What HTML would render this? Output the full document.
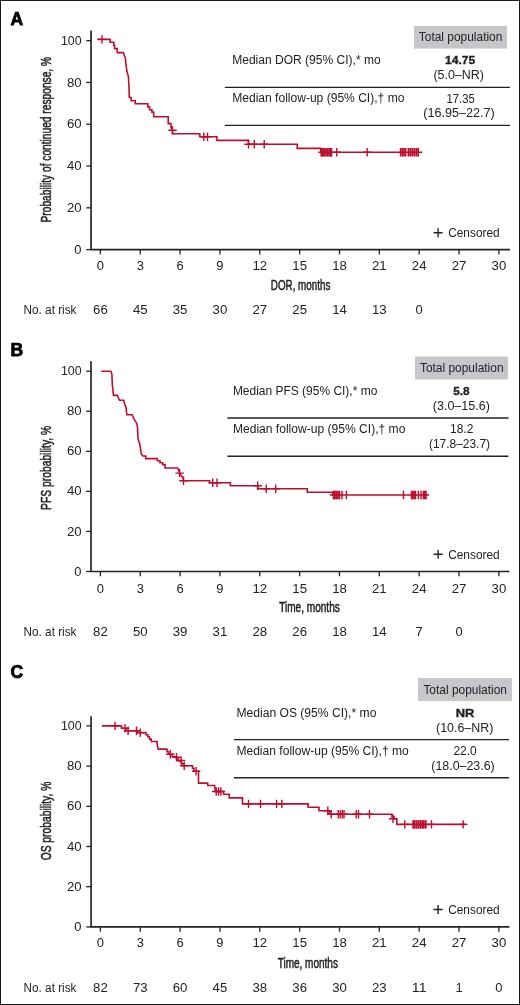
<!DOCTYPE html><html><head><meta charset="utf-8"><style>html,body{margin:0;padding:0;background:#fff}svg{display:block;will-change:transform}text{font-family:"Liberation Sans",sans-serif}</style></head><body>
<svg width="520" height="1005" viewBox="0 0 520 1005">
<rect x="0" y="0" width="520" height="1005" fill="#fff"/>
<path d="M91.05 30.5V249.6H510" stroke="#222222" stroke-width="1.65" fill="none"/>
<path d="M86.25 249.6H91.05" stroke="#222222" stroke-width="1.3"/>
<text x="81.6" y="253.7" font-size="12" text-anchor="end" textLength="7.21" lengthAdjust="spacingAndGlyphs" fill="#222222" >0</text>
<path d="M86.25 207.82H91.05" stroke="#222222" stroke-width="1.3"/>
<text x="81.6" y="211.92" font-size="12" text-anchor="end" textLength="14.68" lengthAdjust="spacingAndGlyphs" fill="#222222" >20</text>
<path d="M86.25 166.04H91.05" stroke="#222222" stroke-width="1.3"/>
<text x="81.6" y="170.14" font-size="12" text-anchor="end" textLength="14.68" lengthAdjust="spacingAndGlyphs" fill="#222222" >40</text>
<path d="M86.25 124.26H91.05" stroke="#222222" stroke-width="1.3"/>
<text x="81.6" y="128.36" font-size="12" text-anchor="end" textLength="14.68" lengthAdjust="spacingAndGlyphs" fill="#222222" >60</text>
<path d="M86.25 82.48H91.05" stroke="#222222" stroke-width="1.3"/>
<text x="81.6" y="86.58" font-size="12" text-anchor="end" textLength="14.68" lengthAdjust="spacingAndGlyphs" fill="#222222" >80</text>
<path d="M86.25 40.7H91.05" stroke="#222222" stroke-width="1.3"/>
<text x="81.6" y="44.8" font-size="12" text-anchor="end" textLength="20.62" lengthAdjust="spacingAndGlyphs" fill="#222222" >100</text>
<path d="M100.4 249.6V254.4" stroke="#222222" stroke-width="1.3"/>
<text x="100.4" y="269.7" font-size="12" text-anchor="middle" textLength="7.21" lengthAdjust="spacingAndGlyphs" fill="#222222" >0</text>
<path d="M140.25 249.6V254.4" stroke="#222222" stroke-width="1.3"/>
<text x="140.25" y="269.7" font-size="12" text-anchor="middle" textLength="7.21" lengthAdjust="spacingAndGlyphs" fill="#222222" >3</text>
<path d="M180.1 249.6V254.4" stroke="#222222" stroke-width="1.3"/>
<text x="180.1" y="269.7" font-size="12" text-anchor="middle" textLength="7.21" lengthAdjust="spacingAndGlyphs" fill="#222222" >6</text>
<path d="M219.95 249.6V254.4" stroke="#222222" stroke-width="1.3"/>
<text x="219.95" y="269.7" font-size="12" text-anchor="middle" textLength="7.21" lengthAdjust="spacingAndGlyphs" fill="#222222" >9</text>
<path d="M259.8 249.6V254.4" stroke="#222222" stroke-width="1.3"/>
<text x="259.8" y="269.7" font-size="12" text-anchor="middle" textLength="14.68" lengthAdjust="spacingAndGlyphs" fill="#222222" >12</text>
<path d="M299.64 249.6V254.4" stroke="#222222" stroke-width="1.3"/>
<text x="299.64" y="269.7" font-size="12" text-anchor="middle" textLength="14.68" lengthAdjust="spacingAndGlyphs" fill="#222222" >15</text>
<path d="M339.49 249.6V254.4" stroke="#222222" stroke-width="1.3"/>
<text x="339.49" y="269.7" font-size="12" text-anchor="middle" textLength="14.68" lengthAdjust="spacingAndGlyphs" fill="#222222" >18</text>
<path d="M379.34 249.6V254.4" stroke="#222222" stroke-width="1.3"/>
<text x="379.34" y="269.7" font-size="12" text-anchor="middle" textLength="14.68" lengthAdjust="spacingAndGlyphs" fill="#222222" >21</text>
<path d="M419.19 249.6V254.4" stroke="#222222" stroke-width="1.3"/>
<text x="419.19" y="269.7" font-size="12" text-anchor="middle" textLength="14.68" lengthAdjust="spacingAndGlyphs" fill="#222222" >24</text>
<path d="M459.04 249.6V254.4" stroke="#222222" stroke-width="1.3"/>
<text x="459.04" y="269.7" font-size="12" text-anchor="middle" textLength="14.68" lengthAdjust="spacingAndGlyphs" fill="#222222" >27</text>
<path d="M498.89 249.6V254.4" stroke="#222222" stroke-width="1.3"/>
<text x="498.89" y="269.7" font-size="12" text-anchor="middle" textLength="14.68" lengthAdjust="spacingAndGlyphs" fill="#222222" >30</text>
<text x="23.6" y="314.4" font-size="12" text-anchor="start" textLength="52.8" lengthAdjust="spacingAndGlyphs" fill="#222222" >No. at risk</text>
<text x="100.4" y="314.4" font-size="12" text-anchor="middle" textLength="14.68" lengthAdjust="spacingAndGlyphs" fill="#222222" >66</text>
<text x="140.25" y="314.4" font-size="12" text-anchor="middle" textLength="14.68" lengthAdjust="spacingAndGlyphs" fill="#222222" >45</text>
<text x="180.1" y="314.4" font-size="12" text-anchor="middle" textLength="14.68" lengthAdjust="spacingAndGlyphs" fill="#222222" >35</text>
<text x="219.95" y="314.4" font-size="12" text-anchor="middle" textLength="14.68" lengthAdjust="spacingAndGlyphs" fill="#222222" >30</text>
<text x="259.8" y="314.4" font-size="12" text-anchor="middle" textLength="14.68" lengthAdjust="spacingAndGlyphs" fill="#222222" >27</text>
<text x="299.64" y="314.4" font-size="12" text-anchor="middle" textLength="14.68" lengthAdjust="spacingAndGlyphs" fill="#222222" >25</text>
<text x="339.49" y="314.4" font-size="12" text-anchor="middle" textLength="14.68" lengthAdjust="spacingAndGlyphs" fill="#222222" >14</text>
<text x="379.34" y="314.4" font-size="12" text-anchor="middle" textLength="14.68" lengthAdjust="spacingAndGlyphs" fill="#222222" >13</text>
<text x="419.19" y="314.4" font-size="12" text-anchor="middle" textLength="7.21" lengthAdjust="spacingAndGlyphs" fill="#222222" >0</text>
<text x="270.8" y="289.8" font-size="14.2" textLength="59.5" lengthAdjust="spacingAndGlyphs" fill="#222222" stroke="#222222" stroke-width="0.5">DOR, months</text>
<text transform="translate(50.9 139.7) rotate(-90)" x="0" y="0" font-size="14.6" text-anchor="middle" textLength="165.5" lengthAdjust="spacingAndGlyphs" fill="#222222" stroke="#222222" stroke-width="0.5">Probability of continued response, %</text>
<text x="10.5" y="25.4" font-size="17.6" text-anchor="start" font-weight="bold" fill="#000" stroke="#000" stroke-width="0.75">A</text>
<path d="M438.1 228.3V237.3M433.6 232.8H442.6" stroke="#222222" stroke-width="1.4"/>
<text x="448.2" y="237.2" font-size="12" text-anchor="start" textLength="51.5" lengthAdjust="spacingAndGlyphs" fill="#222222" >Censored</text>
<rect x="414" y="26" width="93" height="22.6" fill="#c7c7cb"/>
<text x="460.6" y="41.1" font-size="12" text-anchor="middle" textLength="83.6" lengthAdjust="spacingAndGlyphs" fill="#222222" >Total population</text>
<text x="232.2" y="64.1" font-size="12" text-anchor="start" textLength="148.5" lengthAdjust="spacingAndGlyphs" fill="#222222" >Median DOR (95% CI),* mo</text>
<text x="232.2" y="102.3" font-size="12" text-anchor="start" textLength="172.2" lengthAdjust="spacingAndGlyphs" fill="#222222" >Median follow-up (95% CI),† mo</text>
<text x="460.2" y="64.1" font-size="11.3" text-anchor="middle" font-weight="bold" textLength="30.2" lengthAdjust="spacingAndGlyphs" fill="#222222" stroke="#222222" stroke-width="0.35">14.75</text>
<text x="458.7" y="79.1" font-size="12" text-anchor="middle" textLength="50.6" lengthAdjust="spacingAndGlyphs" fill="#222222" >(5.0–NR)</text>
<text x="460.6" y="102.6" font-size="12" text-anchor="middle" textLength="28.3" lengthAdjust="spacingAndGlyphs" fill="#222222" >17.35</text>
<text x="459.0" y="117.1" font-size="12" text-anchor="middle" textLength="71.5" lengthAdjust="spacingAndGlyphs" fill="#222222" >(16.95–22.7)</text>
<path d="M224.8 87.4H510M224.8 125.4H510" stroke="#222222" stroke-width="1.4"/>
<path d="M97.3 39.4H110.1V42.2H113.8V45.5H114.6V48.6H117.2V52.6H123.4L124 55.1L125.4 58.1L126 64.7L126.9 71.3L128.4 76.6L129 86.8L129.3 97.5H131.2V100.7H135.2V103.7H147.9V106.9H149.6V109.8H151.9V112.1H153.7V116.8H168.2V123.6H171V127.1L172.5 130.3V133.8H199.8V136.8H216.9V140.4H248.5V144.2H297.2V148.4H320.8V152.2H422.3" stroke="#ba0f2e" stroke-width="1.6" fill="none" stroke-linejoin="miter"/>
<path d="M102 35.199999999999996V43.6M97.8 39.4H106.2" stroke="#ba0f2e" stroke-width="1.4" fill="none"/>
<path d="M172.5 126.10000000000001V134.5M168.3 130.3H176.7" stroke="#ba0f2e" stroke-width="1.4" fill="none"/>
<path d="M203.8 132.60000000000002V141.0M199.60000000000002 136.8H208.0" stroke="#ba0f2e" stroke-width="1.4" fill="none"/>
<path d="M207.5 132.60000000000002V141.0M203.3 136.8H211.7" stroke="#ba0f2e" stroke-width="1.4" fill="none"/>
<path d="M248.5 140.0V148.39999999999998M244.3 144.2H252.7" stroke="#ba0f2e" stroke-width="1.4" fill="none"/>
<path d="M254.3 140.0V148.39999999999998M250.10000000000002 144.2H258.5" stroke="#ba0f2e" stroke-width="1.4" fill="none"/>
<path d="M264.2 140.0V148.39999999999998M260.0 144.2H268.4" stroke="#ba0f2e" stroke-width="1.4" fill="none"/>
<path d="M322.5 148.0V156.39999999999998M318.3 152.2H326.7" stroke="#ba0f2e" stroke-width="1.4" fill="none"/>
<path d="M336.7 148.0V156.39999999999998M332.5 152.2H340.9" stroke="#ba0f2e" stroke-width="1.4" fill="none"/>
<path d="M367.2 148.0V156.39999999999998M363.0 152.2H371.4" stroke="#ba0f2e" stroke-width="1.4" fill="none"/>
<rect x="320.8" y="148.0" width="11.2" height="8.4" fill="#c8102e" fill-opacity="0.55"/>
<rect x="400.0" y="148.0" width="6.2" height="8.4" fill="#c8102e" fill-opacity="0.55"/>
<rect x="407.8" y="148.0" width="11.0" height="8.4" fill="#c8102e" fill-opacity="0.55"/>
<path d="M321.2 148.0V156.39999999999998" stroke="#ba0f2e" stroke-width="1.45" fill="none"/>
<path d="M322.8 148.0V156.39999999999998" stroke="#ba0f2e" stroke-width="1.45" fill="none"/>
<path d="M324.4 148.0V156.39999999999998" stroke="#ba0f2e" stroke-width="1.45" fill="none"/>
<path d="M326 148.0V156.39999999999998" stroke="#ba0f2e" stroke-width="1.45" fill="none"/>
<path d="M327.6 148.0V156.39999999999998" stroke="#ba0f2e" stroke-width="1.45" fill="none"/>
<path d="M329.2 148.0V156.39999999999998" stroke="#ba0f2e" stroke-width="1.45" fill="none"/>
<path d="M330.8 148.0V156.39999999999998" stroke="#ba0f2e" stroke-width="1.45" fill="none"/>
<path d="M331.6 148.0V156.39999999999998" stroke="#ba0f2e" stroke-width="1.45" fill="none"/>
<path d="M400.5 148.0V156.39999999999998" stroke="#ba0f2e" stroke-width="1.45" fill="none"/>
<path d="M402.3 148.0V156.39999999999998" stroke="#ba0f2e" stroke-width="1.45" fill="none"/>
<path d="M404.1 148.0V156.39999999999998" stroke="#ba0f2e" stroke-width="1.45" fill="none"/>
<path d="M405.6 148.0V156.39999999999998" stroke="#ba0f2e" stroke-width="1.45" fill="none"/>
<path d="M408.3 148.0V156.39999999999998" stroke="#ba0f2e" stroke-width="1.45" fill="none"/>
<path d="M410.3 148.0V156.39999999999998" stroke="#ba0f2e" stroke-width="1.45" fill="none"/>
<path d="M412.3 148.0V156.39999999999998" stroke="#ba0f2e" stroke-width="1.45" fill="none"/>
<path d="M414.4 148.0V156.39999999999998" stroke="#ba0f2e" stroke-width="1.45" fill="none"/>
<path d="M416.5 148.0V156.39999999999998" stroke="#ba0f2e" stroke-width="1.45" fill="none"/>
<path d="M418.2 148.0V156.39999999999998" stroke="#ba0f2e" stroke-width="1.45" fill="none"/>
<path d="M91.0 361.3V571.5H509.4" stroke="#222222" stroke-width="1.65" fill="none"/>
<path d="M86.2 571.5H91.0" stroke="#222222" stroke-width="1.3"/>
<text x="81.6" y="575.6" font-size="12" text-anchor="end" textLength="7.21" lengthAdjust="spacingAndGlyphs" fill="#222222" >0</text>
<path d="M86.2 531.44H91.0" stroke="#222222" stroke-width="1.3"/>
<text x="81.6" y="535.54" font-size="12" text-anchor="end" textLength="14.68" lengthAdjust="spacingAndGlyphs" fill="#222222" >20</text>
<path d="M86.2 491.38H91.0" stroke="#222222" stroke-width="1.3"/>
<text x="81.6" y="495.48" font-size="12" text-anchor="end" textLength="14.68" lengthAdjust="spacingAndGlyphs" fill="#222222" >40</text>
<path d="M86.2 451.32H91.0" stroke="#222222" stroke-width="1.3"/>
<text x="81.6" y="455.42" font-size="12" text-anchor="end" textLength="14.68" lengthAdjust="spacingAndGlyphs" fill="#222222" >60</text>
<path d="M86.2 411.26H91.0" stroke="#222222" stroke-width="1.3"/>
<text x="81.6" y="415.36" font-size="12" text-anchor="end" textLength="14.68" lengthAdjust="spacingAndGlyphs" fill="#222222" >80</text>
<path d="M86.2 371.2H91.0" stroke="#222222" stroke-width="1.3"/>
<text x="81.6" y="375.3" font-size="12" text-anchor="end" textLength="20.62" lengthAdjust="spacingAndGlyphs" fill="#222222" >100</text>
<path d="M100.4 571.5V576.3" stroke="#222222" stroke-width="1.3"/>
<text x="100.4" y="592.6" font-size="12" text-anchor="middle" textLength="7.21" lengthAdjust="spacingAndGlyphs" fill="#222222" >0</text>
<path d="M140.25 571.5V576.3" stroke="#222222" stroke-width="1.3"/>
<text x="140.25" y="592.6" font-size="12" text-anchor="middle" textLength="7.21" lengthAdjust="spacingAndGlyphs" fill="#222222" >3</text>
<path d="M180.1 571.5V576.3" stroke="#222222" stroke-width="1.3"/>
<text x="180.1" y="592.6" font-size="12" text-anchor="middle" textLength="7.21" lengthAdjust="spacingAndGlyphs" fill="#222222" >6</text>
<path d="M219.95 571.5V576.3" stroke="#222222" stroke-width="1.3"/>
<text x="219.95" y="592.6" font-size="12" text-anchor="middle" textLength="7.21" lengthAdjust="spacingAndGlyphs" fill="#222222" >9</text>
<path d="M259.8 571.5V576.3" stroke="#222222" stroke-width="1.3"/>
<text x="259.8" y="592.6" font-size="12" text-anchor="middle" textLength="14.68" lengthAdjust="spacingAndGlyphs" fill="#222222" >12</text>
<path d="M299.64 571.5V576.3" stroke="#222222" stroke-width="1.3"/>
<text x="299.64" y="592.6" font-size="12" text-anchor="middle" textLength="14.68" lengthAdjust="spacingAndGlyphs" fill="#222222" >15</text>
<path d="M339.49 571.5V576.3" stroke="#222222" stroke-width="1.3"/>
<text x="339.49" y="592.6" font-size="12" text-anchor="middle" textLength="14.68" lengthAdjust="spacingAndGlyphs" fill="#222222" >18</text>
<path d="M379.34 571.5V576.3" stroke="#222222" stroke-width="1.3"/>
<text x="379.34" y="592.6" font-size="12" text-anchor="middle" textLength="14.68" lengthAdjust="spacingAndGlyphs" fill="#222222" >21</text>
<path d="M419.19 571.5V576.3" stroke="#222222" stroke-width="1.3"/>
<text x="419.19" y="592.6" font-size="12" text-anchor="middle" textLength="14.68" lengthAdjust="spacingAndGlyphs" fill="#222222" >24</text>
<path d="M459.04 571.5V576.3" stroke="#222222" stroke-width="1.3"/>
<text x="459.04" y="592.6" font-size="12" text-anchor="middle" textLength="14.68" lengthAdjust="spacingAndGlyphs" fill="#222222" >27</text>
<path d="M498.89 571.5V576.3" stroke="#222222" stroke-width="1.3"/>
<text x="498.89" y="592.6" font-size="12" text-anchor="middle" textLength="14.68" lengthAdjust="spacingAndGlyphs" fill="#222222" >30</text>
<text x="23.6" y="636.3" font-size="12" text-anchor="start" textLength="52.8" lengthAdjust="spacingAndGlyphs" fill="#222222" >No. at risk</text>
<text x="100.4" y="636.3" font-size="12" text-anchor="middle" textLength="14.68" lengthAdjust="spacingAndGlyphs" fill="#222222" >82</text>
<text x="140.25" y="636.3" font-size="12" text-anchor="middle" textLength="14.68" lengthAdjust="spacingAndGlyphs" fill="#222222" >50</text>
<text x="180.1" y="636.3" font-size="12" text-anchor="middle" textLength="14.68" lengthAdjust="spacingAndGlyphs" fill="#222222" >39</text>
<text x="219.95" y="636.3" font-size="12" text-anchor="middle" textLength="14.68" lengthAdjust="spacingAndGlyphs" fill="#222222" >31</text>
<text x="259.8" y="636.3" font-size="12" text-anchor="middle" textLength="14.68" lengthAdjust="spacingAndGlyphs" fill="#222222" >28</text>
<text x="299.64" y="636.3" font-size="12" text-anchor="middle" textLength="14.68" lengthAdjust="spacingAndGlyphs" fill="#222222" >26</text>
<text x="339.49" y="636.3" font-size="12" text-anchor="middle" textLength="14.68" lengthAdjust="spacingAndGlyphs" fill="#222222" >18</text>
<text x="379.34" y="636.3" font-size="12" text-anchor="middle" textLength="14.68" lengthAdjust="spacingAndGlyphs" fill="#222222" >14</text>
<text x="419.19" y="636.3" font-size="12" text-anchor="middle" textLength="7.21" lengthAdjust="spacingAndGlyphs" fill="#222222" >7</text>
<text x="459.04" y="636.3" font-size="12" text-anchor="middle" textLength="7.21" lengthAdjust="spacingAndGlyphs" fill="#222222" >0</text>
<text x="279.2" y="611.8" font-size="14.2" textLength="60.6" lengthAdjust="spacingAndGlyphs" fill="#222222" stroke="#222222" stroke-width="0.5">Time, months</text>
<text transform="translate(50.9 467.9) rotate(-90)" x="0" y="0" font-size="14.6" text-anchor="middle" textLength="84.2" lengthAdjust="spacingAndGlyphs" fill="#222222" stroke="#222222" stroke-width="0.5">PFS probability, %</text>
<text x="10.5" y="356.3" font-size="17.6" text-anchor="start" font-weight="bold" fill="#000" stroke="#000" stroke-width="0.75">B</text>
<path d="M438.1 549.8V558.8M433.6 554.3H442.6" stroke="#222222" stroke-width="1.4"/>
<text x="448.2" y="558.7" font-size="12" text-anchor="start" textLength="51.5" lengthAdjust="spacingAndGlyphs" fill="#222222" >Censored</text>
<rect x="415" y="356.5" width="93" height="23" fill="#c7c7cb"/>
<text x="461.75" y="372.4" font-size="12" text-anchor="middle" textLength="83.6" lengthAdjust="spacingAndGlyphs" fill="#222222" >Total population</text>
<text x="232.9" y="394.8" font-size="12" text-anchor="start" textLength="144.4" lengthAdjust="spacingAndGlyphs" fill="#222222" >Median PFS (95% CI),* mo</text>
<text x="232.9" y="433.0" font-size="12" text-anchor="start" textLength="172.5" lengthAdjust="spacingAndGlyphs" fill="#222222" >Median follow-up (95% CI),† mo</text>
<text x="461.4" y="394.6" font-size="11.3" text-anchor="middle" font-weight="bold" textLength="16.4" lengthAdjust="spacingAndGlyphs" fill="#222222" stroke="#222222" stroke-width="0.35">5.8</text>
<text x="461.3" y="409.9" font-size="12" text-anchor="middle" textLength="57.0" lengthAdjust="spacingAndGlyphs" fill="#222222" >(3.0–15.6)</text>
<text x="461.7" y="433.1" font-size="12" text-anchor="middle" fill="#222222" >18.2</text>
<text x="459.5" y="448.0" font-size="12" text-anchor="middle" textLength="61.0" lengthAdjust="spacingAndGlyphs" fill="#222222" >(17.8–23.7)</text>
<path d="M227.4 418.0H508.5M227.4 456.3H508.5" stroke="#222222" stroke-width="1.4"/>
<path d="M101.2 371.3H110.8L111.9 374.2L112.3 384.2L113.5 395.4H117.3L118.1 397.3L119.6 400.2H123.8L124.6 404.2L126 407L126.5 411.9L126.9 414.8H132.2L134.1 419.4L136.5 422.8L137.5 427.1L138 438.7L139.9 444.4L141.3 454L142.8 456H145.7V458.6H157.3V460.8H160V462.7H162.7V464.6H165V468H177.7L178.8 470.4L179.6 473.1L181.2 475.4L183.1 477.7L183.5 480.7H209.6V482.8H230.4V485.8H257.7V488.8H307.3V492.2H332.8V495H429.2" stroke="#ba0f2e" stroke-width="1.6" fill="none" stroke-linejoin="miter"/>
<path d="M179.6 468.90000000000003V477.3M175.4 473.1H183.79999999999998" stroke="#ba0f2e" stroke-width="1.4" fill="none"/>
<path d="M183.5 476.5V484.9M179.3 480.7H187.7" stroke="#ba0f2e" stroke-width="1.4" fill="none"/>
<path d="M212.7 478.6V487.0M208.5 482.8H216.89999999999998" stroke="#ba0f2e" stroke-width="1.4" fill="none"/>
<path d="M217 478.6V487.0M212.8 482.8H221.2" stroke="#ba0f2e" stroke-width="1.4" fill="none"/>
<path d="M257.7 481.6V490.0M253.5 485.8H261.9" stroke="#ba0f2e" stroke-width="1.4" fill="none"/>
<path d="M266.2 484.6V493.0M262.0 488.8H270.4" stroke="#ba0f2e" stroke-width="1.4" fill="none"/>
<path d="M275.7 484.6V493.0M271.5 488.8H279.9" stroke="#ba0f2e" stroke-width="1.4" fill="none"/>
<path d="M334 490.8V499.2M329.8 495H338.2" stroke="#ba0f2e" stroke-width="1.4" fill="none"/>
<rect x="332.8" y="490.8" width="7.5" height="8.4" fill="#c8102e" fill-opacity="0.55"/>
<rect x="411.1" y="490.8" width="4.8" height="8.4" fill="#c8102e" fill-opacity="0.55"/>
<rect x="423.0" y="490.8" width="3.3" height="8.4" fill="#c8102e" fill-opacity="0.55"/>
<path d="M333.5 490.8V499.2" stroke="#ba0f2e" stroke-width="1.45" fill="none"/>
<path d="M335 490.8V499.2" stroke="#ba0f2e" stroke-width="1.45" fill="none"/>
<path d="M336.5 490.8V499.2" stroke="#ba0f2e" stroke-width="1.45" fill="none"/>
<path d="M338 490.8V499.2" stroke="#ba0f2e" stroke-width="1.45" fill="none"/>
<path d="M339.5 490.8V499.2" stroke="#ba0f2e" stroke-width="1.45" fill="none"/>
<path d="M342 490.8V499.2" stroke="#ba0f2e" stroke-width="1.45" fill="none"/>
<path d="M346.4 490.8V499.2" stroke="#ba0f2e" stroke-width="1.45" fill="none"/>
<path d="M403.5 490.8V499.2" stroke="#ba0f2e" stroke-width="1.45" fill="none"/>
<path d="M411.5 490.8V499.2" stroke="#ba0f2e" stroke-width="1.45" fill="none"/>
<path d="M412.8 490.8V499.2" stroke="#ba0f2e" stroke-width="1.45" fill="none"/>
<path d="M414.2 490.8V499.2" stroke="#ba0f2e" stroke-width="1.45" fill="none"/>
<path d="M415.5 490.8V499.2" stroke="#ba0f2e" stroke-width="1.45" fill="none"/>
<path d="M418.3 490.8V499.2" stroke="#ba0f2e" stroke-width="1.45" fill="none"/>
<path d="M421 490.8V499.2" stroke="#ba0f2e" stroke-width="1.45" fill="none"/>
<path d="M423.3 490.8V499.2" stroke="#ba0f2e" stroke-width="1.45" fill="none"/>
<path d="M424.8 490.8V499.2" stroke="#ba0f2e" stroke-width="1.45" fill="none"/>
<path d="M426 490.8V499.2" stroke="#ba0f2e" stroke-width="1.45" fill="none"/>
<path d="M91.1 716.2V926.9H509.4" stroke="#222222" stroke-width="1.65" fill="none"/>
<path d="M86.3 926.9H91.1" stroke="#222222" stroke-width="1.3"/>
<text x="81.6" y="931.0" font-size="12" text-anchor="end" textLength="7.21" lengthAdjust="spacingAndGlyphs" fill="#222222" >0</text>
<path d="M86.3 886.7H91.1" stroke="#222222" stroke-width="1.3"/>
<text x="81.6" y="890.8" font-size="12" text-anchor="end" textLength="14.68" lengthAdjust="spacingAndGlyphs" fill="#222222" >20</text>
<path d="M86.3 846.5H91.1" stroke="#222222" stroke-width="1.3"/>
<text x="81.6" y="850.6" font-size="12" text-anchor="end" textLength="14.68" lengthAdjust="spacingAndGlyphs" fill="#222222" >40</text>
<path d="M86.3 806.3H91.1" stroke="#222222" stroke-width="1.3"/>
<text x="81.6" y="810.4" font-size="12" text-anchor="end" textLength="14.68" lengthAdjust="spacingAndGlyphs" fill="#222222" >60</text>
<path d="M86.3 766.1H91.1" stroke="#222222" stroke-width="1.3"/>
<text x="81.6" y="770.2" font-size="12" text-anchor="end" textLength="14.68" lengthAdjust="spacingAndGlyphs" fill="#222222" >80</text>
<path d="M86.3 725.9H91.1" stroke="#222222" stroke-width="1.3"/>
<text x="81.6" y="730.0" font-size="12" text-anchor="end" textLength="20.62" lengthAdjust="spacingAndGlyphs" fill="#222222" >100</text>
<path d="M100.4 926.9V931.6999999999999" stroke="#222222" stroke-width="1.3"/>
<text x="100.4" y="947.2" font-size="12" text-anchor="middle" textLength="7.21" lengthAdjust="spacingAndGlyphs" fill="#222222" >0</text>
<path d="M140.25 926.9V931.6999999999999" stroke="#222222" stroke-width="1.3"/>
<text x="140.25" y="947.2" font-size="12" text-anchor="middle" textLength="7.21" lengthAdjust="spacingAndGlyphs" fill="#222222" >3</text>
<path d="M180.1 926.9V931.6999999999999" stroke="#222222" stroke-width="1.3"/>
<text x="180.1" y="947.2" font-size="12" text-anchor="middle" textLength="7.21" lengthAdjust="spacingAndGlyphs" fill="#222222" >6</text>
<path d="M219.95 926.9V931.6999999999999" stroke="#222222" stroke-width="1.3"/>
<text x="219.95" y="947.2" font-size="12" text-anchor="middle" textLength="7.21" lengthAdjust="spacingAndGlyphs" fill="#222222" >9</text>
<path d="M259.8 926.9V931.6999999999999" stroke="#222222" stroke-width="1.3"/>
<text x="259.8" y="947.2" font-size="12" text-anchor="middle" textLength="14.68" lengthAdjust="spacingAndGlyphs" fill="#222222" >12</text>
<path d="M299.64 926.9V931.6999999999999" stroke="#222222" stroke-width="1.3"/>
<text x="299.64" y="947.2" font-size="12" text-anchor="middle" textLength="14.68" lengthAdjust="spacingAndGlyphs" fill="#222222" >15</text>
<path d="M339.49 926.9V931.6999999999999" stroke="#222222" stroke-width="1.3"/>
<text x="339.49" y="947.2" font-size="12" text-anchor="middle" textLength="14.68" lengthAdjust="spacingAndGlyphs" fill="#222222" >18</text>
<path d="M379.34 926.9V931.6999999999999" stroke="#222222" stroke-width="1.3"/>
<text x="379.34" y="947.2" font-size="12" text-anchor="middle" textLength="14.68" lengthAdjust="spacingAndGlyphs" fill="#222222" >21</text>
<path d="M419.19 926.9V931.6999999999999" stroke="#222222" stroke-width="1.3"/>
<text x="419.19" y="947.2" font-size="12" text-anchor="middle" textLength="14.68" lengthAdjust="spacingAndGlyphs" fill="#222222" >24</text>
<path d="M459.04 926.9V931.6999999999999" stroke="#222222" stroke-width="1.3"/>
<text x="459.04" y="947.2" font-size="12" text-anchor="middle" textLength="14.68" lengthAdjust="spacingAndGlyphs" fill="#222222" >27</text>
<path d="M498.89 926.9V931.6999999999999" stroke="#222222" stroke-width="1.3"/>
<text x="498.89" y="947.2" font-size="12" text-anchor="middle" textLength="14.68" lengthAdjust="spacingAndGlyphs" fill="#222222" >30</text>
<text x="23.6" y="991.9" font-size="12" text-anchor="start" textLength="52.8" lengthAdjust="spacingAndGlyphs" fill="#222222" >No. at risk</text>
<text x="100.4" y="991.9" font-size="12" text-anchor="middle" textLength="14.68" lengthAdjust="spacingAndGlyphs" fill="#222222" >82</text>
<text x="140.25" y="991.9" font-size="12" text-anchor="middle" textLength="14.68" lengthAdjust="spacingAndGlyphs" fill="#222222" >73</text>
<text x="180.1" y="991.9" font-size="12" text-anchor="middle" textLength="14.68" lengthAdjust="spacingAndGlyphs" fill="#222222" >60</text>
<text x="219.95" y="991.9" font-size="12" text-anchor="middle" textLength="14.68" lengthAdjust="spacingAndGlyphs" fill="#222222" >45</text>
<text x="259.8" y="991.9" font-size="12" text-anchor="middle" textLength="14.68" lengthAdjust="spacingAndGlyphs" fill="#222222" >38</text>
<text x="299.64" y="991.9" font-size="12" text-anchor="middle" textLength="14.68" lengthAdjust="spacingAndGlyphs" fill="#222222" >36</text>
<text x="339.49" y="991.9" font-size="12" text-anchor="middle" textLength="14.68" lengthAdjust="spacingAndGlyphs" fill="#222222" >30</text>
<text x="379.34" y="991.9" font-size="12" text-anchor="middle" textLength="14.68" lengthAdjust="spacingAndGlyphs" fill="#222222" >23</text>
<text x="419.19" y="991.9" font-size="12" text-anchor="middle" textLength="14.68" lengthAdjust="spacingAndGlyphs" fill="#222222" >11</text>
<text x="459.04" y="991.9" font-size="12" text-anchor="middle" textLength="7.21" lengthAdjust="spacingAndGlyphs" fill="#222222" >1</text>
<text x="498.89" y="991.9" font-size="12" text-anchor="middle" textLength="7.21" lengthAdjust="spacingAndGlyphs" fill="#222222" >0</text>
<text x="277.7" y="967.6" font-size="14.2" textLength="60.2" lengthAdjust="spacingAndGlyphs" fill="#222222" stroke="#222222" stroke-width="0.5">Time, months</text>
<text transform="translate(50.9 821.0) rotate(-90)" x="0" y="0" font-size="14.6" text-anchor="middle" textLength="78.7" lengthAdjust="spacingAndGlyphs" fill="#222222" stroke="#222222" stroke-width="0.5">OS probability, %</text>
<text x="10.5" y="678.3" font-size="17.6" text-anchor="start" font-weight="bold" fill="#000" stroke="#000" stroke-width="0.75">C</text>
<path d="M438.1 905.0V914.0M433.6 909.5H442.6" stroke="#222222" stroke-width="1.4"/>
<text x="448.2" y="913.9" font-size="12" text-anchor="start" textLength="51.5" lengthAdjust="spacingAndGlyphs" fill="#222222" >Censored</text>
<rect x="418" y="678.1" width="94" height="23" fill="#c7c7cb"/>
<text x="465.2" y="694.2" font-size="12" text-anchor="middle" textLength="83.6" lengthAdjust="spacingAndGlyphs" fill="#222222" >Total population</text>
<text x="236.4" y="716.9" font-size="12" text-anchor="start" textLength="140" lengthAdjust="spacingAndGlyphs" fill="#222222" >Median OS (95% CI),* mo</text>
<text x="236.4" y="754.8" font-size="12" text-anchor="start" textLength="172.4" lengthAdjust="spacingAndGlyphs" fill="#222222" >Median follow-up (95% CI),† mo</text>
<text x="465.1" y="716.7" font-size="11.3" text-anchor="middle" font-weight="bold" textLength="18.6" lengthAdjust="spacingAndGlyphs" fill="#222222" stroke="#222222" stroke-width="0.35">NR</text>
<text x="464.7" y="731.9" font-size="12" text-anchor="middle" textLength="57.3" lengthAdjust="spacingAndGlyphs" fill="#222222" >(10.6–NR)</text>
<text x="465.1" y="755.2" font-size="12" text-anchor="middle" fill="#222222" >22.0</text>
<text x="463.0" y="770.0" font-size="12" text-anchor="middle" textLength="63.5" lengthAdjust="spacingAndGlyphs" fill="#222222" >(18.0–23.6)</text>
<path d="M233.9 739.6H509M233.9 777.8H509" stroke="#222222" stroke-width="1.4"/>
<path d="M101.9 725.9H121.5V728.2H126V730.8H137.5V732.6H146V734.8H147.8V736.8H149.5V739.1H151.2V741.5H157.1V744.4L158.3 749.1H167V751.8H168.5V754.2H172.2V756.8H176.5V759H178.4V761H181.5V763.5H183V765.7H192.5V768.2H194V771.3H198.5V783.1H207.7V785.5H214.6L215.5 791.5H223.5V794.2H229.2V797.9H242.5V803.9H308.1V807.3H319V810.7H329.5V814.2H391.9V816.6H394V818.7H396.8V824.4H466" stroke="#ba0f2e" stroke-width="1.6" fill="none" stroke-linejoin="miter"/>
<path d="M115 721.6999999999999V730.1M110.8 725.9H119.2" stroke="#ba0f2e" stroke-width="1.4" fill="none"/>
<path d="M125 724.0V732.4000000000001M120.8 728.2H129.2" stroke="#ba0f2e" stroke-width="1.4" fill="none"/>
<path d="M128.1 726.5999999999999V735.0M123.89999999999999 730.8H132.29999999999998" stroke="#ba0f2e" stroke-width="1.4" fill="none"/>
<path d="M136.5 726.5999999999999V735.0M132.3 730.8H140.7" stroke="#ba0f2e" stroke-width="1.4" fill="none"/>
<path d="M140.3 728.4V736.8000000000001M136.10000000000002 732.6H144.5" stroke="#ba0f2e" stroke-width="1.4" fill="none"/>
<path d="M170.3 750.0V758.4000000000001M166.10000000000002 754.2H174.5" stroke="#ba0f2e" stroke-width="1.4" fill="none"/>
<path d="M176.5 753.0999999999999V761.5M172.3 757.3H180.7" stroke="#ba0f2e" stroke-width="1.4" fill="none"/>
<path d="M181.1 756.1999999999999V764.6M176.9 760.4H185.29999999999998" stroke="#ba0f2e" stroke-width="1.4" fill="none"/>
<path d="M184.2 761.5V769.9000000000001M180.0 765.7H188.39999999999998" stroke="#ba0f2e" stroke-width="1.4" fill="none"/>
<path d="M196.1 767.0999999999999V775.5M191.9 771.3H200.29999999999998" stroke="#ba0f2e" stroke-width="1.4" fill="none"/>
<path d="M216.2 787.3V795.7M212.0 791.5H220.39999999999998" stroke="#ba0f2e" stroke-width="1.4" fill="none"/>
<path d="M218.5 787.3V795.7M214.3 791.5H222.7" stroke="#ba0f2e" stroke-width="1.4" fill="none"/>
<path d="M220.8 787.3V795.7M216.60000000000002 791.5H225.0" stroke="#ba0f2e" stroke-width="1.4" fill="none"/>
<path d="M248.5 799.6999999999999V808.1M244.3 803.9H252.7" stroke="#ba0f2e" stroke-width="1.4" fill="none"/>
<path d="M260.5 799.6999999999999V808.1M256.3 803.9H264.7" stroke="#ba0f2e" stroke-width="1.4" fill="none"/>
<path d="M276.6 799.6999999999999V808.1M272.40000000000003 803.9H280.8" stroke="#ba0f2e" stroke-width="1.4" fill="none"/>
<path d="M281.8 799.6999999999999V808.1M277.6 803.9H286.0" stroke="#ba0f2e" stroke-width="1.4" fill="none"/>
<path d="M327.8 806.5V814.9000000000001M323.6 810.7H332.0" stroke="#ba0f2e" stroke-width="1.4" fill="none"/>
<path d="M331.2 810.0V818.4000000000001M327.0 814.2H335.4" stroke="#ba0f2e" stroke-width="1.4" fill="none"/>
<path d="M338.2 810.0V818.4000000000001M334.0 814.2H342.4" stroke="#ba0f2e" stroke-width="1.4" fill="none"/>
<path d="M340.2 810.0V818.4000000000001M336.0 814.2H344.4" stroke="#ba0f2e" stroke-width="1.4" fill="none"/>
<path d="M342.3 810.0V818.4000000000001M338.1 814.2H346.5" stroke="#ba0f2e" stroke-width="1.4" fill="none"/>
<path d="M344 810.0V818.4000000000001M339.8 814.2H348.2" stroke="#ba0f2e" stroke-width="1.4" fill="none"/>
<path d="M356.2 810.0V818.4000000000001M352.0 814.2H360.4" stroke="#ba0f2e" stroke-width="1.4" fill="none"/>
<path d="M358.5 810.0V818.4000000000001M354.3 814.2H362.7" stroke="#ba0f2e" stroke-width="1.4" fill="none"/>
<path d="M369.5 810.0V818.4000000000001M365.3 814.2H373.7" stroke="#ba0f2e" stroke-width="1.4" fill="none"/>
<path d="M393 814.5V822.9000000000001M388.8 818.7H397.2" stroke="#ba0f2e" stroke-width="1.4" fill="none"/>
<path d="M404.8 820.1999999999999V828.6M400.6 824.4H409.0" stroke="#ba0f2e" stroke-width="1.4" fill="none"/>
<path d="M431.5 820.1999999999999V828.6M427.3 824.4H435.7" stroke="#ba0f2e" stroke-width="1.4" fill="none"/>
<path d="M463.2 820.1999999999999V828.6M459.0 824.4H467.4" stroke="#ba0f2e" stroke-width="1.4" fill="none"/>
<rect x="412.4" y="820.2" width="14.4" height="8.4" fill="#c8102e" fill-opacity="0.55"/>
<path d="M413.1 820.1999999999999V828.6" stroke="#ba0f2e" stroke-width="1.45" fill="none"/>
<path d="M414.6 820.1999999999999V828.6" stroke="#ba0f2e" stroke-width="1.45" fill="none"/>
<path d="M416.5 820.1999999999999V828.6" stroke="#ba0f2e" stroke-width="1.45" fill="none"/>
<path d="M418.5 820.1999999999999V828.6" stroke="#ba0f2e" stroke-width="1.45" fill="none"/>
<path d="M420.4 820.1999999999999V828.6" stroke="#ba0f2e" stroke-width="1.45" fill="none"/>
<path d="M422.3 820.1999999999999V828.6" stroke="#ba0f2e" stroke-width="1.45" fill="none"/>
<path d="M423.8 820.1999999999999V828.6" stroke="#ba0f2e" stroke-width="1.45" fill="none"/>
<path d="M425.8 820.1999999999999V828.6" stroke="#ba0f2e" stroke-width="1.45" fill="none"/>
<rect x="0.5" y="0.5" width="519" height="1004" fill="none" stroke="#1a1a1a" stroke-width="1"/>
</svg></body></html>
